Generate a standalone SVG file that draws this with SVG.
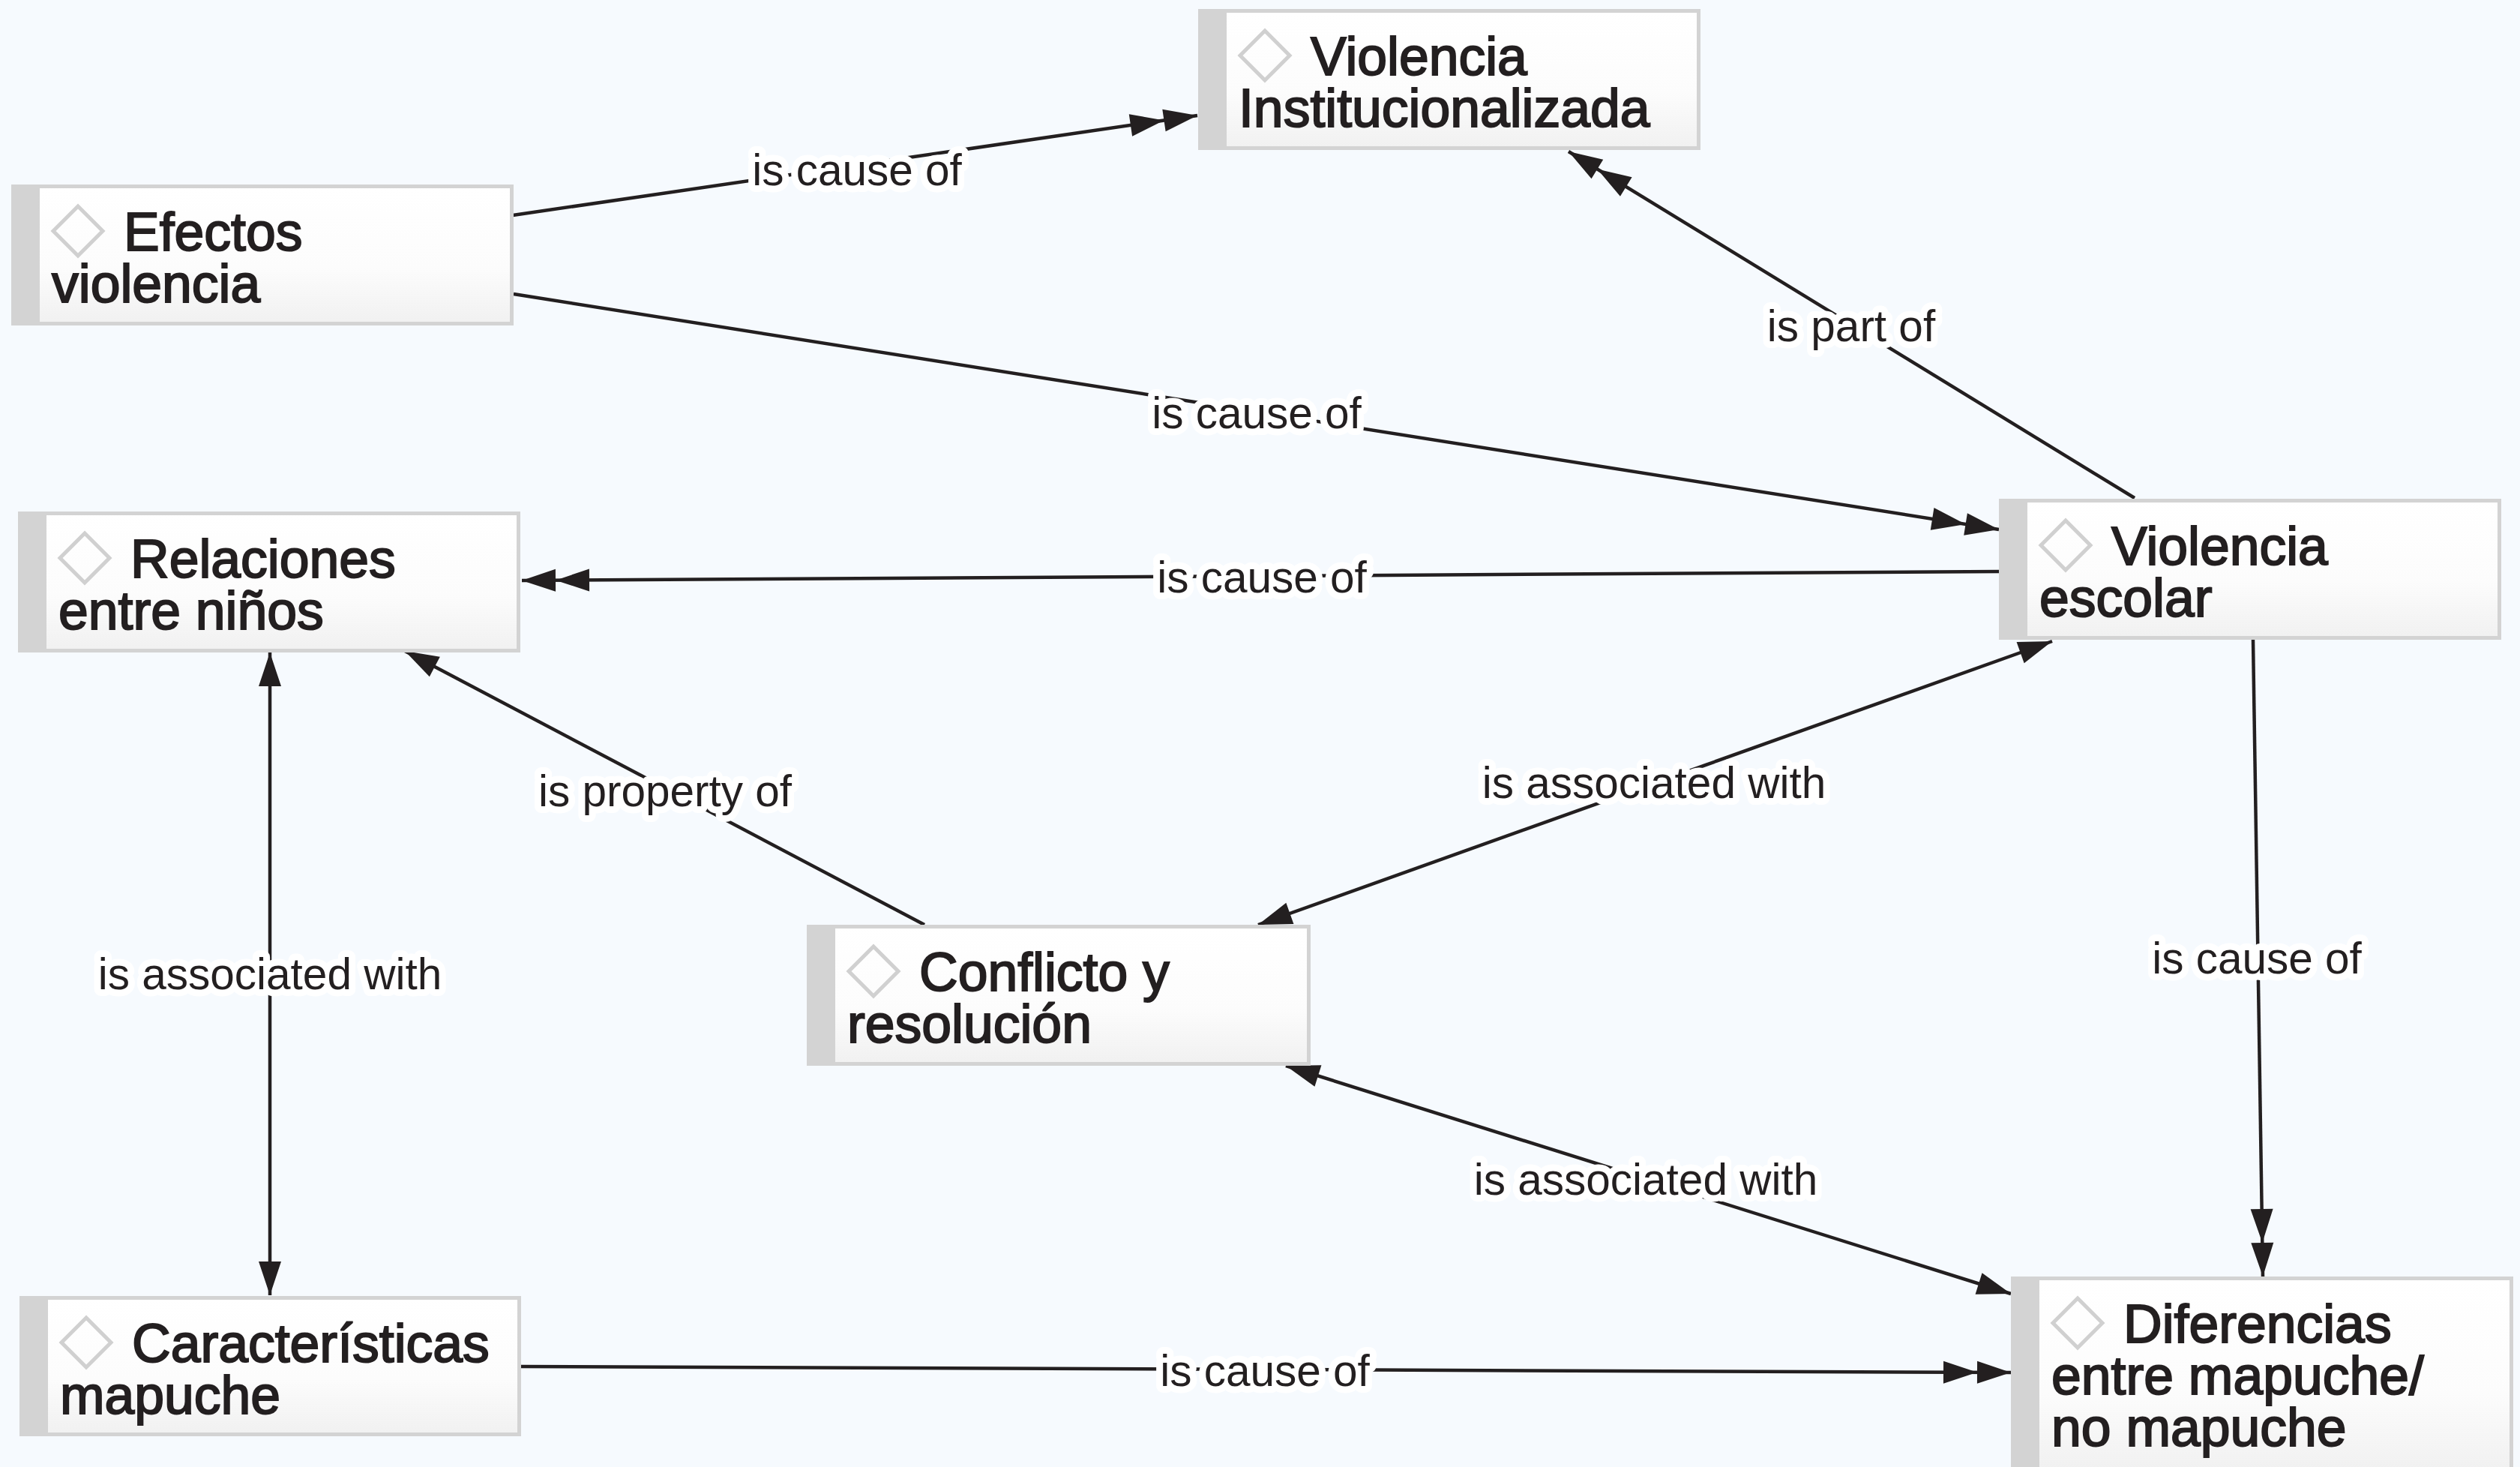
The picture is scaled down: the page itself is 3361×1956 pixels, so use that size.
<svg xmlns="http://www.w3.org/2000/svg" width="3361" height="1956" viewBox="0 0 3361 1956">
<style>
.box{fill:#d3d3d3}
.inner{fill:url(#g)}
.dia{fill:none;stroke:#d0d0d0;stroke-width:5}
.nt{font-family:"Liberation Sans",Arial,sans-serif;font-size:71.5px;fill:#231f20;stroke:#231f20;stroke-width:2}
.edge{stroke:#231f20;stroke-width:4.5;fill:none}
.lbl{font-family:"Liberation Sans",Arial,sans-serif;font-size:58.5px;fill:#231f20;text-anchor:middle;stroke:#ffffff;stroke-width:18;stroke-linejoin:round;paint-order:stroke}
</style>
<defs>
<linearGradient id="g" x1="0" y1="0" x2="0" y2="1">
<stop offset="0" stop-color="#ffffff"/>
<stop offset="0.6" stop-color="#fcfcfc"/>
<stop offset="1" stop-color="#f1f1f1"/>
</linearGradient>
<marker id="dbl" markerUnits="userSpaceOnUse" viewBox="0 0 92 32" refX="92" refY="16" markerWidth="92" markerHeight="32" orient="auto">
<path d="M92,16 L47,1 L47,31 Z M47,16 L2,1 L2,31 Z" fill="#231f20"/>
</marker>
<marker id="sgl" markerUnits="userSpaceOnUse" viewBox="0 0 46 32" refX="46" refY="16" markerWidth="46" markerHeight="32" orient="auto-start-reverse">
<path d="M46,16 L1,1 L1,31 Z" fill="#231f20"/>
</marker>
</defs>
<rect width="3361" height="1956" fill="#f6fafe"/>

<g id="connectors">
<line class="edge" x1="684" y1="287" x2="1597" y2="154" marker-end="url(#dbl)"/>
<line class="edge" x1="685" y1="392" x2="2666" y2="706" marker-end="url(#dbl)"/>
<line class="edge" x1="2666" y1="762" x2="696" y2="774" marker-end="url(#dbl)"/>
<line class="edge" x1="2847" y1="664" x2="2092" y2="202" marker-end="url(#dbl)"/>
<line class="edge" x1="3005" y1="853" x2="3018" y2="1702" marker-end="url(#dbl)"/>
<line class="edge" x1="2737" y1="855" x2="1678" y2="1233" marker-start="url(#sgl)" marker-end="url(#sgl)"/>
<line class="edge" x1="1233" y1="1233" x2="540" y2="868" marker-end="url(#sgl)"/>
<line class="edge" x1="360" y1="870" x2="360" y2="1727" marker-start="url(#sgl)" marker-end="url(#sgl)"/>
<line class="edge" x1="1715" y1="1421" x2="2682" y2="1725" marker-start="url(#sgl)" marker-end="url(#sgl)"/>
<line class="edge" x1="695" y1="1822" x2="2682" y2="1830" marker-end="url(#dbl)"/>
<text class="lbl" x="1143" y="247">is cause of</text>
<text class="lbl" x="1676" y="571">is cause of</text>
<text class="lbl" x="1683" y="790">is cause of</text>
<text class="lbl" x="2469" y="455">is part of</text>
<text class="lbl" x="3010" y="1298">is cause of</text>
<text class="lbl" x="2206" y="1064">is associated with</text>
<text class="lbl" x="887" y="1075">is property of</text>
<text class="lbl" x="360" y="1319">is associated with</text>
<text class="lbl" x="2195" y="1593">is associated with</text>
<text class="lbl" x="1687" y="1848">is cause of</text>
</g>

<g id="n-violencia-inst" transform="translate(1598,12)">
<rect class="box" width="670" height="188"/>
<rect class="inner" x="38" y="5" width="627" height="178"/>
<path class="dia" d="M89,29 L122,62 L89,95 L56,62 Z"/>
<text class="nt" x="150" y="88">Violencia</text>
<text class="nt" x="54" y="157">Institucionalizada</text>
</g>

<g id="n-efectos" transform="translate(15,246)">
<rect class="box" width="670" height="188"/>
<rect class="inner" x="38" y="5" width="627" height="178"/>
<path class="dia" d="M89,29 L122,62 L89,95 L56,62 Z"/>
<text class="nt" x="150" y="88">Efectos</text>
<text class="nt" x="54" y="157">violencia</text>
</g>

<g id="n-relaciones" transform="translate(24,682)">
<rect class="box" width="670" height="188"/>
<rect class="inner" x="38" y="5" width="627" height="178"/>
<path class="dia" d="M89,29 L122,62 L89,95 L56,62 Z"/>
<text class="nt" x="150" y="88">Relaciones</text>
<text class="nt" x="54" y="157">entre niños</text>
</g>

<g id="n-violencia-escolar" transform="translate(2666,665)">
<rect class="box" width="670" height="188"/>
<rect class="inner" x="38" y="5" width="627" height="178"/>
<path class="dia" d="M89,29 L122,62 L89,95 L56,62 Z"/>
<text class="nt" x="150" y="88">Violencia</text>
<text class="nt" x="54" y="157">escolar</text>
</g>

<g id="n-conflicto" transform="translate(1076,1233)">
<rect class="box" width="672" height="188"/>
<rect class="inner" x="38" y="5" width="629" height="178"/>
<path class="dia" d="M89,29 L122,62 L89,95 L56,62 Z"/>
<text class="nt" x="150" y="88">Conflicto y</text>
<text class="nt" x="54" y="157">resolución</text>
</g>

<g id="n-caracteristicas" transform="translate(26,1728)">
<rect class="box" width="669" height="187"/>
<rect class="inner" x="38" y="5" width="626" height="177"/>
<path class="dia" d="M89,29 L122,62 L89,95 L56,62 Z"/>
<text class="nt" x="150" y="88">Características</text>
<text class="nt" x="54" y="157">mapuche</text>
</g>

<g id="n-diferencias" transform="translate(2682,1702)">
<rect class="box" width="670" height="262"/>
<rect class="inner" x="38" y="5" width="627" height="252"/>
<path class="dia" d="M89,29 L122,62 L89,95 L56,62 Z"/>
<text class="nt" x="150" y="88">Diferencias</text>
<text class="nt" x="54" y="157">entre mapuche/</text>
<text class="nt" x="54" y="226">no mapuche</text>
</g>
</svg>
